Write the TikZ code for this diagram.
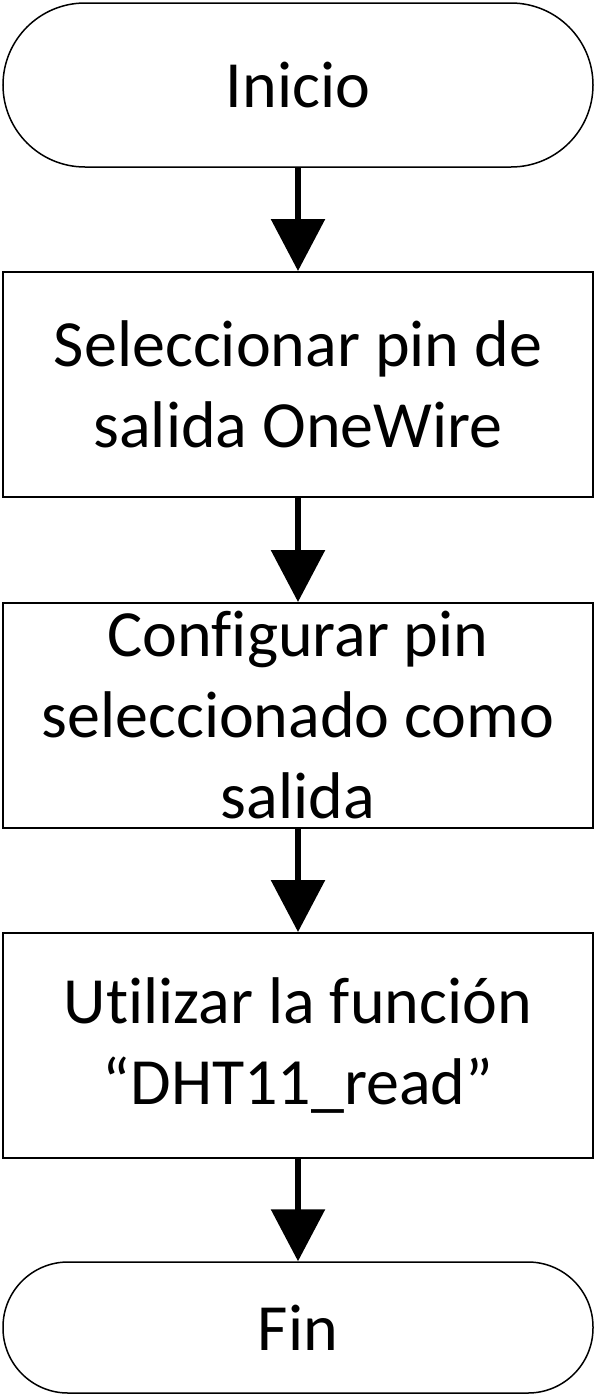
\documentclass[tikz,border=0pt]{standalone}
\usepackage{fontspec}
\setmainfont{Carlito}[Ligatures={NoCommon,TeX}]
\usetikzlibrary{arrows.meta}
\begin{document}
\begin{tikzpicture}[x=1pt,y=-1pt,
  txt/.style={font=\fontsize{66}{81}\selectfont, align=center, inner sep=0pt},
  term/.style={txt, draw, line width=1.5pt, minimum width=590pt, rounded corners=#1},
  procbox/.style={txt, draw, line width=2pt, minimum width=590pt, minimum height=225pt},
  conn/.style={line width=6pt, -{Triangle[width=53pt,length=52pt]}}
]
\useasboundingbox (0,0) rectangle (606,1400);
\node[term=82pt, minimum height=164pt] (start) at (298,85) {Inicio};
\node[procbox] (b1) at (298,384.5) {Seleccionar pin de\\salida OneWire};
\node[procbox] (b2) at (298,715.5) {Configurar pin\\seleccionado como\\salida};
\node[procbox] (b3) at (298,1045.5) {Utilizar la función\\“DHT11\_read”};
\node[term=65pt, minimum height=131pt] (fin) at (298,1327.5) {Fin};
\draw[conn] (start.south) -- (b1.north);
\draw[conn] (b1.south) -- (b2.north);
\draw[conn] (b2.south) -- (b3.north);
\draw[conn] (b3.south) -- (fin.north);
\end{tikzpicture}
\end{document}
